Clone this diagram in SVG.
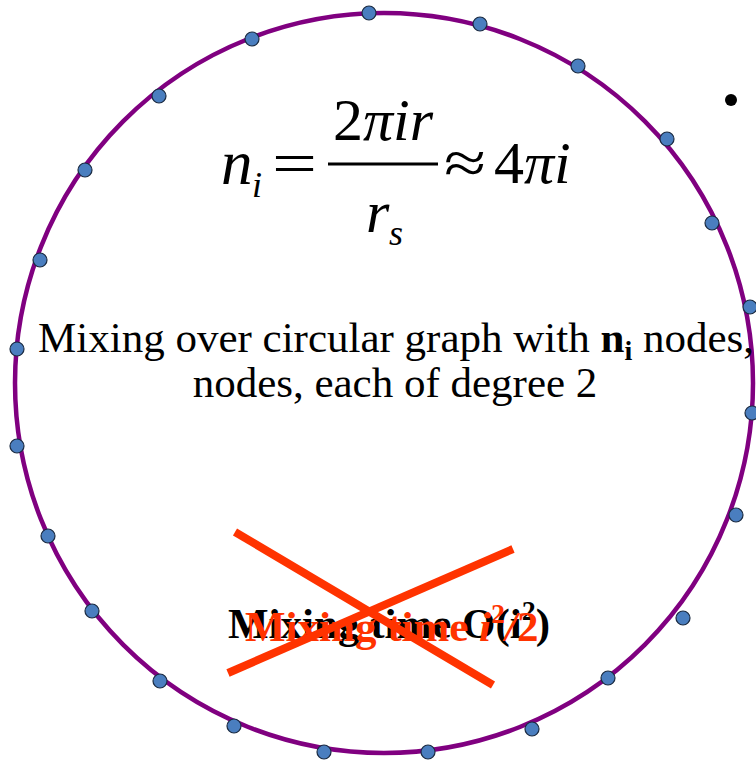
<svg xmlns="http://www.w3.org/2000/svg" width="756" height="762" viewBox="0 0 756 762">
<style>
.ring{fill:none;stroke:#800080;stroke-width:4.5}
.dot{fill:#4A7EBF;stroke:#1a2a40;stroke-width:1.2}
.math{font-family:"Liberation Serif","Times New Roman",serif;font-size:60px;fill:#000}
.it{font-style:italic}
.sub{font-size:36px}
.lg{font-size:63px}
.body{font-family:"Liberation Serif","Times New Roman",serif;font-size:43px;fill:#000}
.big{font-family:"Liberation Serif","Times New Roman",serif;font-size:43px;font-weight:bold}
.cross{stroke:#FF3300;stroke-width:8;stroke-linecap:butt}
</style>
<rect width="756" height="762" fill="#fff"/>
<g id="ring">
<ellipse class="ring" cx="384" cy="383" rx="369" ry="370"/>
</g>
<g id="nodes">
<circle class="dot" cx="369" cy="13" r="7"/>
<circle class="dot" cx="480" cy="24" r="7"/>
<circle class="dot" cx="578" cy="66" r="7"/>
<circle class="dot" cx="667" cy="139" r="7"/>
<circle class="dot" cx="712" cy="223" r="7"/>
<circle class="dot" cx="750" cy="307" r="7"/>
<circle class="dot" cx="752" cy="413" r="7"/>
<circle class="dot" cx="736" cy="515" r="7"/>
<circle class="dot" cx="683" cy="618" r="7"/>
<circle class="dot" cx="608" cy="678" r="7"/>
<circle class="dot" cx="532" cy="729" r="7"/>
<circle class="dot" cx="428" cy="752" r="7"/>
<circle class="dot" cx="324" cy="752" r="7"/>
<circle class="dot" cx="234" cy="726" r="7"/>
<circle class="dot" cx="160" cy="681" r="7"/>
<circle class="dot" cx="92" cy="611" r="7"/>
<circle class="dot" cx="48" cy="536" r="7"/>
<circle class="dot" cx="17" cy="446" r="7"/>
<circle class="dot" cx="17" cy="349" r="7"/>
<circle class="dot" cx="40" cy="260" r="7"/>
<circle class="dot" cx="85" cy="170" r="7"/>
<circle class="dot" cx="159" cy="96" r="7"/>
<circle class="dot" cx="252" cy="39" r="7"/>
</g>
<g id="bullet">
<circle cx="731" cy="100" r="6" fill="#000"/>
</g>
<g id="formula">
<text class="math it lg" x="221" y="184">n</text>
<text class="math it sub" x="252" y="197">i</text>
<text class="math" x="272" y="183" textLength="45" lengthAdjust="spacingAndGlyphs">=</text>
<text class="math" x="333" y="140"><tspan>2</tspan><tspan class="it">πir</tspan></text>
<line x1="328" y1="164" x2="438" y2="164" stroke="#000" stroke-width="3"/>
<text class="math it" x="366" y="232">r</text>
<text class="math it sub" x="389" y="245">s</text>
<text class="math" x="444" y="183" textLength="42" lengthAdjust="spacingAndGlyphs">≈</text>
<text class="math" x="494" y="183"><tspan>4</tspan><tspan class="it">πi</tspan></text>
</g>
<g id="caption">
<text class="body" text-anchor="middle" x="396" y="352">Mixing over circular graph with <tspan font-weight="bold">n</tspan><tspan font-weight="bold" font-size="28" dy="8">i</tspan><tspan dy="-8"> nodes,</tspan></text>
<text class="body" text-anchor="middle" x="395" y="397">nodes, each of degree 2</text>
</g>
<g id="mixing-old">
<text class="big" x="228" y="638" fill="#000">Mixing time O(i<tspan font-size="28" dy="-18">2</tspan><tspan dy="18">)</tspan></text>
</g>
<g id="mixing-new">
<text class="big" x="245" y="641" fill="#FF3300">Mixing time <tspan font-style="italic">i</tspan><tspan font-size="28" dy="-18">2</tspan><tspan dy="18" font-style="italic">/</tspan>2</text>
</g>
<g id="connectors">
<line class="cross" x1="235" y1="532" x2="493" y2="685"/>
<line class="cross" x1="228" y1="673" x2="513" y2="549"/>
</g>
</svg>
